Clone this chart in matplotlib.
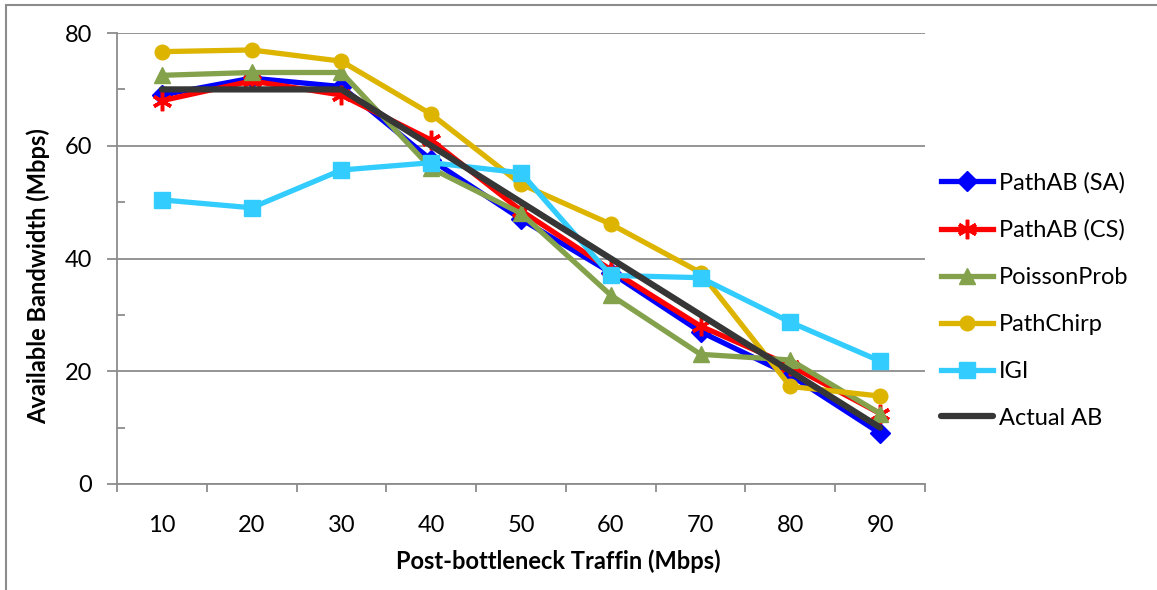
import numpy as np
import matplotlib.pyplot as plt
from matplotlib.ticker import FixedLocator, NullFormatter
from matplotlib.patches import Rectangle

plt.rcParams['font.family'] = ['Lato', 'DejaVu Sans']

# Data
traffic = [10, 20, 30, 40, 50, 60, 70, 80, 90]
pathab_sa = [69, 72, 70.5, 57.5, 47, 37.5, 27, 19.3, 9]
pathab_cs = [68, 71.5, 69, 61, 48.5, 38, 28, 21, 12.5]
poisson_prob = [72.5, 73, 73, 56, 48, 33.5, 23, 22, 12.5]
path_chirp = [76.7, 77, 75, 65.6, 53.2, 46.1, 37.5, 17.3, 15.6]
igi = [50.4, 49, 55.7, 57, 55.2, 37, 36.6, 28.7, 21.8]
actual_ab = [70, 70, 70, 60, 50, 40, 30, 20, 10]

fs = 17

fig = plt.figure(figsize=(11.57, 5.90), dpi=100)
ax = fig.add_axes([0.1011, 0.1797, 0.6984, 0.7643])

x = np.arange(1, len(traffic) + 1)
lw = 3.8
ax.plot(x, pathab_sa, color='#0000FF', lw=lw, marker='D', ms=10, label='PathAB (SA)', zorder=3)
ax.plot(x, pathab_cs, color='#FF0000', lw=lw, marker=(6, 2, 0), ms=14, mew=2.5, label='PathAB (CS)', zorder=4)
ax.plot(x, poisson_prob, color='#84A14B', lw=lw, marker='^', ms=12, label='PoissonProb', zorder=5)
ax.plot(x, path_chirp, color='#DDB400', lw=lw, marker='o', ms=10.5, label='PathChirp', zorder=6)
ax.plot(x, igi, color='#33CCFF', lw=lw, marker='s', ms=11.5, label='IGI', zorder=7)
ax.plot(x, actual_ab, color='#363636', lw=4.5, label='Actual AB', zorder=8, solid_capstyle='round')

ax.set_xlim(0.5, 9.5)
ax.set_ylim(0, 80)
ax.set_xticks(x)
ax.set_xticklabels([str(t) for t in traffic], fontsize=fs)
ax.xaxis.set_minor_locator(FixedLocator(np.arange(0.5, 10, 1)))
ax.xaxis.set_minor_formatter(NullFormatter())
ax.tick_params(axis='x', which='major', length=0, pad=22)
ax.tick_params(axis='x', which='minor', length=6, width=1.3, color='#8c8c8c', direction='out')

ax.set_yticks([0, 20, 40, 60, 80])
ax.set_yticklabels(['0', '20', '40', '60', '80'], fontsize=fs)
ax.yaxis.set_minor_locator(FixedLocator([10, 30, 50, 70]))
ax.tick_params(axis='y', which='major', length=7, width=1.3, color='#8c8c8c', direction='out', pad=11)
ax.tick_params(axis='y', which='minor', length=6, width=1.3, color='#8c8c8c', direction='in')

ax.grid(axis='y', which='major', color='#8c8c8c', lw=1.3)
ax.set_axisbelow(True)
for side in ['top', 'right']:
    ax.spines[side].set_visible(False)
for side in ['left', 'bottom']:
    ax.spines[side].set_color('#8c8c8c')
    ax.spines[side].set_linewidth(1.3)

ax.set_xlabel('Post-bottleneck Traffin (Mbps)', fontsize=fs, fontweight='bold')
ax.xaxis.set_label_coords(0.546, -0.145)
ax.set_ylabel('Available Bandwidth (Mbps)', fontsize=fs, fontweight='bold')
ax.yaxis.set_label_coords(-0.083, 0.461)

ax.legend(loc='center left', bbox_to_anchor=(0.805, 0.491), bbox_transform=fig.transFigure,
          frameon=False, fontsize=fs, handlelength=2.2, handletextpad=0.25,
          labelspacing=1.1, borderaxespad=0)

# outer chart border (only the top and left edges fall inside the image)
fig.patches.append(Rectangle((6 / 1157, -0.1), 1.2, 1 - 5 / 590 + 0.1, transform=fig.transFigure,
                             fill=False, edgecolor='#8c8c8c', lw=1.5))

fig.savefig('out.png', dpi=100)
